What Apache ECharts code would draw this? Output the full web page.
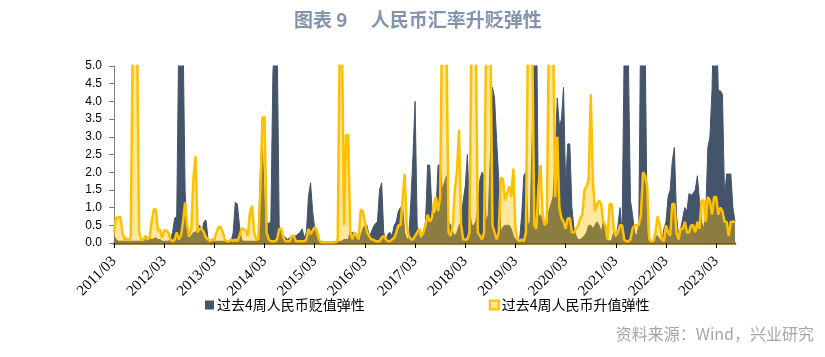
<!DOCTYPE html>
<html><head><meta charset="utf-8">
<script src="https://cdn.jsdelivr.net/npm/echarts@6/dist/echarts.min.js"></script>
<style>html,body{margin:0;padding:0;background:#fff}#c{width:825px;height:357px}</style>
</head><body><div id="c"></div>
<script>
// Year tick labels (each year = 24 half-month periods starting in March)
const tickLabels = ['2011/03','2012/03','2013/03','2014/03','2015/03','2016/03','2017/03','2018/03','2019/03','2020/03','2021/03','2022/03','2023/03'];
const periodsPerYear = 24;

// 过去4周人民币贬值弹性 (half-month samples)
const depreciation = [
/*2011*/ 0.2,0.1,0.05,0.05,0.05,0.05,0.05,0.05,0.05,0.05,0.05,0.05,0.05,0.05,0.05,0.1,0.12,0.15,0.1,0.12,0.15,0.1,0.1,0.05,
/*2012*/ 0.05,0.05,0.05,0.1,0.3,0.7,0.75,6,7,6,1.5,0.2,0.15,0.2,0.3,0.3,0.4,0.5,0.3,0.6,0.65,0.1,0.05,0.05,
/*2013*/ 0.05,0.05,0.05,0.05,0.05,0.05,0.05,0.05,0.05,0.3,1.15,1.1,0.5,0.1,0.05,0.05,0.05,0.05,0.05,0.05,0.05,0.1,2.0,2.7,
/*2014*/ 1.0,0.6,0.55,0.6,4.8,6,6,0.5,0.3,0.2,0.15,0.1,0.15,0.2,0.2,0.2,0.25,0.3,0.4,0.15,0.3,1.3,1.7,0.9,
/*2015*/ 0.4,0.2,0.05,0.02,0.02,0.02,0.02,0.02,0.02,0.02,0.02,0.02,0.05,0.05,0.1,0.1,0.1,0.3,0.3,0.3,0.25,0.15,0.2,0.4,
/*2016*/ 0.5,0.5,0.2,0.3,0.45,0.55,0.6,1.5,1.7,0.3,0.05,0.25,0.3,0.2,0.5,0.6,0.9,1.0,1.05,0.3,0.1,0.15,1.2,2.5,
/*2017*/ 4.0,0.5,0.2,0.1,0.3,0.6,2.2,2.2,1.0,0.8,0.9,2.2,2.2,1.5,1.7,1.9,0.6,0.5,0.3,0.2,0.3,0.5,0.6,1.2,
/*2018*/ 1.6,2.5,1.0,0.5,0.5,0.6,1.0,1.8,2.0,1.9,0.6,0.8,2.5,4.4,4.1,2.9,1.8,0.3,0.45,0.5,0.5,0.5,0.4,0.2,
/*2019*/ 0.1,0.05,0.1,0.8,1.9,2.0,0.5,0.6,3,7,7,0.7,0.8,0.6,0.5,0.7,0.9,1.1,1.3,2.5,4.1,3.3,3.5,4.4,
/*2020*/ 1.6,2.8,2.8,1.0,0.4,0.2,0.1,0.1,0.15,0.2,0.3,0.5,0.5,0.4,0.5,0.6,0.5,0.3,0.6,0.3,0.1,0.05,0.1,0.3,
/*2021*/ 0.1,0.5,1.0,0.3,5.5,7,5.2,1.2,0.8,0.3,0.2,0.5,7,7,6,0.3,0.1,0.05,0.1,0.2,0.2,0.1,0.05,0.4,
/*2022*/ 0.6,1.3,1.5,2.3,2.7,0.8,0.2,0.4,0.7,1.0,0.9,1.4,1.35,1.4,1.5,1.9,1.2,0.6,0.4,0.8,2.7,3.0,4.3,7,
/*2023*/ 7,4.3,4.3,4.2,1.3,1.95,1.95,1.95,1.0,0.6
];

// 过去4周人民币升值弹性 (half-month samples)
const appreciation = [
/*2011*/ 0.3,0.72,0.7,0.75,0.3,0.1,0.12,0.08,0.15,6,7,6,0.3,0.1,0.08,0.2,0.1,0.15,0.6,0.95,0.95,0.35,0.38,0.15,
/*2012*/ 0.35,0.35,0.3,0.1,0.05,0.1,0.3,0.1,0.2,0.6,1.15,0.5,0.2,0.4,1.85,2.45,0.3,0.4,0.4,0.3,0.15,0.1,0.05,0.1,
/*2013*/ 0.1,0.3,0.45,0.45,0.3,0.1,0.05,0.05,0.1,0.05,0.1,0.05,0.2,0.4,0.4,0.35,0.2,0.85,1.05,0.3,0.1,0.1,1.5,3.55,
/*2014*/ 3.55,0.3,0.1,0.05,0.05,0.05,0.1,0.4,0.4,0.15,0.05,0.05,0.05,0.2,0.2,0.05,0.05,0.05,0.05,0.05,0.1,0.4,0.25,0.35,
/*2015*/ 0.45,0.35,0.1,0.02,0.02,0.02,0.02,0.02,0.02,0.02,0.02,0.1,6,6,0.5,3.05,3.05,0.3,0.1,0.3,0.2,0.1,0.95,0.9,
/*2016*/ 0.6,0.3,0.2,0.1,0.1,0.05,0.05,0.05,0.15,0.2,0.1,0.05,0.05,0.1,0.15,0.3,0.5,0.5,1.2,1.95,0.5,0.2,0.1,0.1,
/*2017*/ 0.2,0.3,0.4,0.2,0.3,0.5,0.8,0.6,0.7,1.1,1.3,0.9,1.3,7,7,6,0.3,0.2,0.5,1.5,2.0,3.2,0.5,0.1,
/*2018*/ 0.1,0.1,0.3,6,7,6,0.3,0.2,0.1,0.3,6,7,6,0.5,0.3,0.1,0.3,1.85,1.8,1.2,1.4,1.6,1.3,2.1,
/*2019*/ 0.4,0.1,0.05,0.1,0.05,0.3,6,7,6,0.5,0.4,1.6,2.2,0.8,0.5,0.6,6,7,6,1.3,3.0,1.0,0.7,0.6,
/*2020*/ 0.4,0.7,0.7,0.3,0.3,0.4,0.5,0.7,0.8,1.5,1.6,1.8,4.2,1.8,0.9,1.1,1.2,1.1,0.6,0.5,0.1,1.1,1.1,0.4,
/*2021*/ 0.2,0.3,0.5,0.5,0.1,0.05,0.05,0.1,0.4,0.5,0.5,0.5,0.8,2.0,1.9,1.6,0.1,0.05,0.05,0.3,0.75,0.5,0.1,0.05,
/*2022*/ 0.5,0.3,0.2,1.1,1.1,0.3,0.1,0.4,0.4,0.6,0.3,0.3,0.5,0.5,0.3,0.6,0.4,1.2,1.2,0.6,1.3,1.2,0.8,1.3,
/*2023*/ 1.3,0.8,1.0,0.9,0.6,0.6,0.2,0.6,0.6,0.6
];

const seriesNames = ['过去4周人民币贬值弹性', '过去4周人民币升值弹性'];

// category labels: half-month periods
const categories = depreciation.map((_, i) => {
  const y = Math.floor(i / periodsPerYear);
  const p = i % periodsPerYear;
  return tickLabels[y] + '#' + p;
});

const chart = echarts.init(document.getElementById('c'), null, {renderer: 'canvas'});
const showTick = (idx) => idx % periodsPerYear === 0;
chart.setOption({
  animation: false,
  backgroundColor: '#fff',
  title: {
    text: '图表 9　 人民币汇率升贬弹性',
    left: 289, top: 5,
    textStyle: {fontSize: 19, fontWeight: 'bold', color: '#8294AD', fontFamily: 'Noto Sans CJK SC'}
  },
  graphic: [{
    type: 'text', right: 11, top: 326,
    style: {text: '资料来源：Wind，兴业研究', fill: '#A6A6A6', font: '16px "Noto Sans CJK SC"'}
  }],
  legend: {
    top: 293, left: 200, itemGap: 124, itemWidth: 9, itemHeight: 9,
    icon: 'rect',
    textStyle: {fontSize: 14, fontFamily: 'Noto Sans CJK SC', color: '#000', padding: [0,0,0,-2]},
    data: [
      {name: seriesNames[0], itemStyle: {color: '#44546A'}},
      {name: seriesNames[1], itemStyle: {color: '#FFE699', borderColor: '#FFC000', borderWidth: 2}}
    ]
  },
  grid: {left: 114, right: 90, top: 66, bottom: 114, containLabel: false},
  xAxis: {
    type: 'category', data: categories, boundaryGap: false,
    axisLine: {show: true, lineStyle: {color: '#7F6000', width: 2.5}},
    axisTick: {show: true, interval: showTick, length: 5, lineStyle: {color: '#000'}},
    axisLabel: {
      interval: showTick, rotate: 45, margin: 16,
      formatter: (v) => v.split('#')[0],
      fontSize: 15, fontFamily: 'Liberation Serif', color: '#000'
    },
    splitLine: {show: false}
  },
  yAxis: {
    type: 'value', min: 0, max: 5, interval: 0.5,
    axisLine: {show: true, lineStyle: {color: '#7f7f7f'}},
    axisTick: {show: true, length: 5, lineStyle: {color: '#7f7f7f'}},
    axisLabel: {formatter: (v) => v.toFixed(1), fontSize: 12, fontFamily: 'Liberation Sans', color: '#000', margin: 12},
    splitLine: {show: false}
  },
  series: [
    {
      name: seriesNames[0], type: 'line', data: depreciation, symbol: 'none', clip: true, z: 2,
      lineStyle: {color: '#44546A', width: 1},
      itemStyle: {color: '#44546A'},
      areaStyle: {color: '#44546A', opacity: 1}
    },
    {
      name: seriesNames[1], type: 'line', data: appreciation, symbol: 'none', clip: true, z: 3,
      lineStyle: {color: '#FFC000', width: 2.5},
      itemStyle: {color: '#FFC000'},
      areaStyle: {color: '#FFC000', opacity: 0.38}
    }
  ]
});
</script>
</body></html>
